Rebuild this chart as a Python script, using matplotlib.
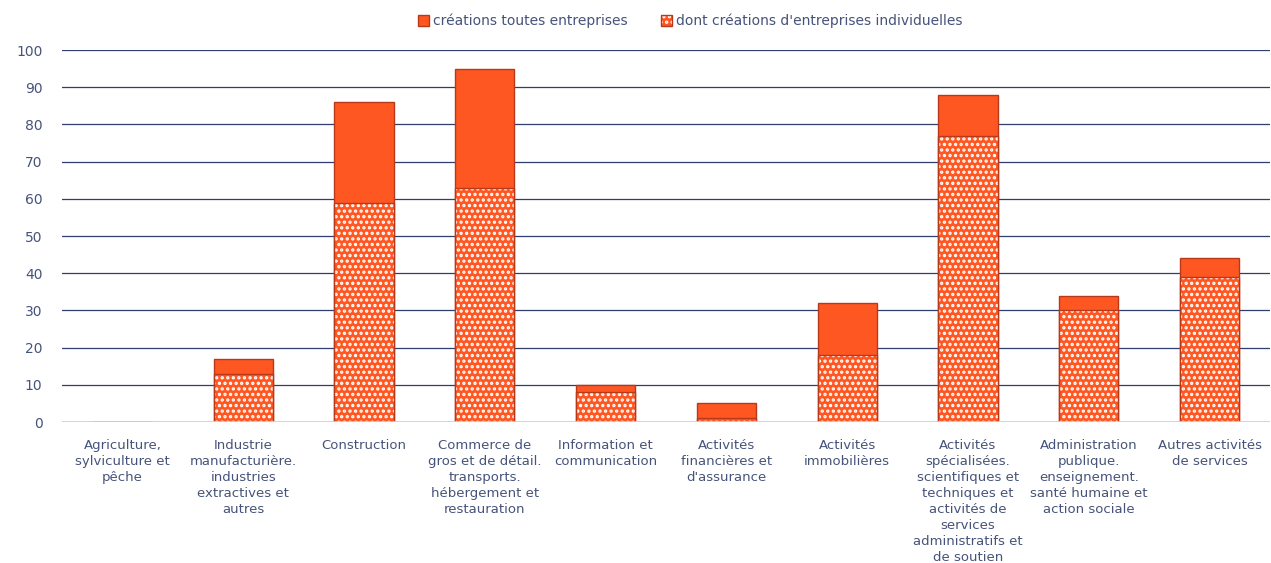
import matplotlib
matplotlib.use("Agg")
import matplotlib.pyplot as plt
import numpy as np
from matplotlib.patches import Patch

categories = ["Agriculture,\nsylviculture et\npêche",
              "Industrie\nmanufacturière.\nindustries\nextractives et\nautres",
              "Construction",
              "Commerce de\ngros et de détail.\ntransports.\nhébergement et\nrestauration",
              "Information et\ncommunication",
              "Activités\nfinancières et\nd'assurance",
              "Activités\nimmobilières",
              "Activités\nspécialisées.\nscientifiques et\ntechniques et\nactivités de\nservices\nadministratifs et\nde soutien",
              "Administration\npublique.\nenseignement.\nsanté humaine et\naction sociale",
              "Autres activités\nde services"]
total = [0, 17, 86, 95, 10, 5, 32, 88, 34, 44]
individuelles = [0, 13, 59, 63, 8, 1, 18, 77, 30, 39]

ORANGE = "#FF5722"; EDGE = "#B8391A"; TXT = "#46537A"; GRID = "#2E3F6F"
plt.rcParams["font.family"] = ["DejaVu Sans"]
plt.rcParams["hatch.linewidth"] = 1.6

fig = plt.figure(figsize=(12.71, 5.63), dpi=100)
ax = fig.add_axes([62/1271, 1 - 422/563, 1208/1271, 372/563])
x = np.arange(len(categories)); w = 0.49

ax.bar(x, total, w, color=ORANGE, edgecolor=EDGE, linewidth=1, zorder=3)
ax.bar(x, individuelles, w, color=ORANGE, edgecolor="white", hatch="...", linewidth=0, zorder=4)
ax.bar(x, individuelles, w, fill=False, edgecolor=EDGE, linewidth=1, zorder=5)

ax.set_xlim(-0.5, len(categories) - 0.5); ax.set_ylim(0, 100)
ax.set_yticks(range(0, 101, 10))
ax.yaxis.grid(True, color=GRID, linewidth=0.9, zorder=0)
ax.axhline(0, color="#C8D2E6", linewidth=1.2, zorder=6)
for s in ax.spines.values(): s.set_visible(False)
ax.tick_params(length=0, colors=TXT, labelsize=10)
ax.tick_params(axis="y", pad=14)
ax.set_xticks(x); ax.set_xticklabels(categories, fontsize=9.5, color=TXT, linespacing=1.3)
ax.tick_params(axis="x", pad=12)

# legend handles: hatched fill + dark outline drawn on top of each other
h1 = Patch(facecolor=ORANGE, edgecolor=EDGE, linewidth=1)
h2 = Patch(facecolor=ORANGE, edgecolor="white", hatch="...", linewidth=0)
h2e = Patch(fill=False, edgecolor=EDGE, linewidth=1)
leg = fig.legend([h1, (h2, h2e)], ["créations toutes entreprises", "dont créations d'entreprises individuelles"],
                 loc="center", bbox_to_anchor=(0.543, 1 - 21/563), ncol=2, frameon=False, fontsize=10,
                 handlelength=0.8, handleheight=0.8, handletextpad=0.3, columnspacing=2.4)
for t in leg.get_texts(): t.set_color(TXT)

plt.savefig("out.png", dpi=100)
